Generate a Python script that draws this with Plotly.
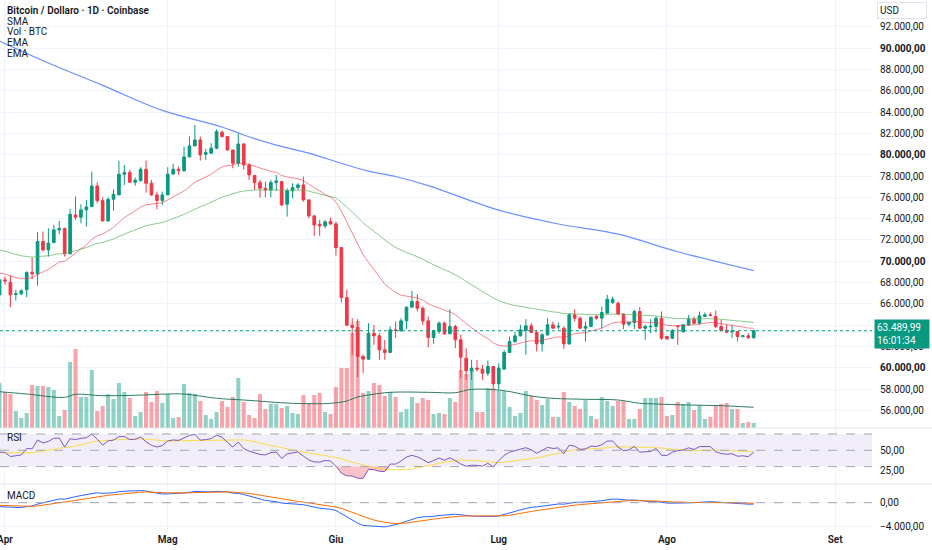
import pandas as pd
import plotly.graph_objects as go

# ---------------- data ----------------
first_day = "2024-03-31"

opens = [
    66855, 68260, 68042, 66890, 66949, 67324, 68979, 68823, 71853, 71072,
    71760, 72947, 73072, 70697, 74352, 74134, 74821, 75133, 77070, 75696,
    73790, 75821, 76227, 78164, 78320, 77414, 77570, 78632, 77320, 76227,
    75696, 76227, 78195, 78632, 78476, 79788, 80819, 81381, 80038, 80132,
    80601, 82100, 81694, 80444, 79195, 81007, 79038, 78039, 77383, 76852,
    76695, 77383, 77477, 75352, 76602, 76914, 77164, 75758, 74259, 73478,
    73322, 73728, 73509, 71291, 66605, 64012, 63793, 61076, 60826, 63262,
    63012, 61701, 61451, 63575, 63481, 64418, 65699, 66230, 65605, 64418,
    62856, 63419, 64200, 63200, 63887, 62638, 60919, 59732, 59982, 59889,
    59514, 60138, 58514, 59889, 61450, 62481, 63013, 63512, 63950, 63325,
    62263, 63106, 64043, 63840, 63731, 62263, 64981, 64668, 63731, 63887,
    64824, 64668, 65137, 66136, 66074, 65043, 64106, 64262, 65293, 63731,
    63850, 63887, 64668, 62950, 62794, 63950, 63419, 64043, 64574, 64200,
    64824, 64981, 64824, 63887, 63512, 63380, 63419, 62950, 63013, 62856,
]
highs = [
    68573, 68573, 68667, 67324, 67386, 69073, 70354, 72728, 72791, 73103,
    73415, 73790, 73165, 74915, 76071, 75352, 75758, 78414, 77414, 76008,
    76008, 76758, 79445, 79038, 78570, 77851, 78820, 79445, 77632, 76539,
    76539, 78820, 79132, 78882, 80757, 81694, 82787, 81694, 80538, 81069,
    82381, 82256, 81694, 80444, 81944, 81069, 79195, 78101, 77633, 77477,
    77633, 78101, 77539, 76852, 77320, 77320, 77945, 75821, 74352, 73884,
    73884, 74103, 73728, 71291, 67324, 64668, 64574, 61232, 64199, 64043,
    63262, 62637, 63887, 64355, 64668, 65761, 67230, 66917, 65761, 64824,
    63575, 64356, 64356, 65512, 64043, 63106, 61857, 60763, 60763, 60295,
    60701, 60138, 60451, 61700, 62950, 63419, 64043, 64574, 64200, 63575,
    63262, 64668, 64356, 64262, 63887, 65137, 65512, 64824, 64356, 64824,
    64981, 65762, 66855, 66699, 66230, 65137, 64356, 65449, 65700, 64043,
    64574, 64824, 65293, 63013, 63637, 63950, 64137, 64981, 64824, 65293,
    65199, 65199, 65387, 64512, 64043, 64043, 63419, 63106, 63262, 63575,
]
lows = [
    65918, 67792, 65699, 66324, 66824, 66636, 68323, 67730, 70916, 70447,
    71697, 72541, 70447, 70697, 73884, 73571, 73259, 75133, 75446, 73728,
    73728, 74758, 76227, 77164, 77383, 77102, 77477, 76446, 76133, 74884,
    75290, 76227, 78101, 78101, 78476, 79788, 80819, 79445, 79507, 80132,
    80507, 81631, 80382, 78726, 78882, 78570, 77633, 76695, 75977, 76008,
    76008, 76602, 75196, 74196, 75915, 76695, 75602, 74040, 72384, 72384,
    73103, 73415, 70541, 66136, 63950, 61232, 59138, 59513, 60764, 62169,
    60764, 60764, 61451, 62794, 63419, 63637, 65699, 65293, 64043, 61951,
    62263, 63200, 63106, 63200, 61857, 59045, 58889, 58889, 59670, 58889,
    59264, 58108, 57952, 59826, 61450, 62325, 62950, 61232, 63262, 61544,
    61544, 63013, 63637, 63637, 61794, 62169, 64356, 63637, 62481, 63825,
    64512, 63731, 65137, 66012, 64981, 63637, 63887, 63637, 63637, 62638,
    63262, 63325, 62638, 62638, 62700, 62169, 63262, 63950, 64137, 64043,
    64824, 64824, 63731, 63419, 63262, 62794, 62481, 62856, 62700, 62700,
]
closes = [
    68261, 68150, 66855, 66960, 67230, 68948, 68823, 71853, 71072, 71697,
    72947, 73072, 70697, 74415, 74134, 74821, 75102, 77070, 75696, 73790,
    75821, 76289, 78164, 78320, 77414, 77601, 78632, 77320, 76227, 75696,
    76227, 78164, 78632, 78507, 79788, 80819, 81381, 79976, 80194, 80601,
    82162, 81694, 80444, 79195, 81007, 79038, 78101, 77383, 76852, 76695,
    77383, 77539, 75290, 76602, 76914, 77164, 75758, 74259, 73415, 73322,
    73697, 73509, 71291, 66605, 64012, 63793, 61076, 60826, 63262, 63012,
    61701, 61451, 63575, 63512, 64418, 65699, 66230, 65605, 64418, 62856,
    63481, 64200, 63200, 63887, 62638, 61013, 59732, 59982, 59889, 59514,
    60138, 58514, 59982, 61450, 62481, 63013, 63575, 63950, 63325, 62263,
    63106, 64043, 63731, 63900, 62263, 64981, 64668, 63731, 63887, 64762,
    64668, 65199, 66449, 66449, 65043, 64106, 64293, 65293, 63731, 63887,
    63900, 64668, 62794, 62732, 63512, 63887, 64043, 64574, 64200, 64887,
    64981, 64918, 63887, 63512, 63356, 63450, 62950, 63013, 62856, 63489.99,
]
# volume (relative units of the volume pane)
volumes = [
    45, 36, 34, 17, 10, 15, 43, 42, 42, 41,
    38, 12, 18, 66, 79, 31, 31, 58, 17, 22,
    34, 29, 45, 36, 30, 12, 16, 36, 26, 37,
    25, 34, 10, 11, 44, 35, 34, 27, 13, 9,
    16, 27, 21, 31, 50, 26, 13, 10, 34, 19,
    24, 24, 20, 22, 15, 14, 33, 25, 33, 35,
    16, 14, 41, 60, 60, 95, 107, 35, 37, 45,
    43, 32, 36, 31, 16, 19, 31, 25, 30, 28,
    14, 15, 14, 30, 26, 58, 54, 58, 16, 16,
    40, 40, 37, 37, 21, 12, 15, 37, 32, 28,
    23, 29, 11, 11, 36, 26, 22, 19, 28, 12,
    9, 31, 27, 22, 27, 27, 9, 9, 19, 30,
    30, 30, 31, 12, 13, 26, 24, 26, 18, 23,
    9, 11, 23, 24, 25, 19, 19, 5, 6, 5,
]

# SMA (blue) read at sample days (day 0 = 1 Apr)
sma_day_index = [-1, 8, 18, 29, 40, 44, 50, 56, 62, 67, 72, 78, 91, 102, 113, 124, 138]
sma_values = [90650, 88600, 86500, 84150, 82600, 81850, 80900, 80150, 79200,
              78450, 77950, 77100, 74800, 73500, 72550, 70900, 69130]

# Volume moving average read at sample days
vol_ma_day_index = [-1, 4, 11, 13, 18, 24, 30, 33, 39, 44, 53, 60, 63, 65, 67, 71,
                    78, 83, 86, 92, 97, 101, 107, 113, 117, 120, 126, 132, 138]
vol_ma_values = [36.3, 34.0, 30.7, 33.7, 32.3, 32.7, 34.0, 34.0, 29.7, 28.0, 24.7, 24.7,
                 27.0, 31.0, 33.0, 35.7, 35.7, 35.3, 38.7, 37.3, 32.0, 29.7, 28.7, 28.0,
                 24.7, 24.0, 23.0, 22.3, 20.7]

# indicator states just before the first visible day
ema20_seed = 68950
ema50_seed = 71190
ema12_seed = 68700
ema26_seed = 69400
signal_seed = -380
rsi_gain_seed = 430
rsi_loss_seed = 470
rsi_ma_seed = 47

month_ticks = ["2024-04-01", "2024-05-01", "2024-06-01", "2024-07-01", "2024-08-01", "2024-09-01"]
month_labels = ["Apr", "Mag", "Giu", "Lug", "Ago", "Set"]
price_ticks = list(range(56000, 92001, 2000))
rsi_ticks = [25, 50]
rsi_levels = [70, 50, 30]
macd_ticks = [0, -4000]

legend_lines = ["Bitcoin / Dollaro · 1D · Coinbase", "SMA", "Vol · BTC", "EMA", "EMA"]
last_price = 63489.99
countdown = "16:01:34"

# ---------------- helpers ----------------
UP = "#089981"
DOWN = "#F23645"
TXT = "#131722"
GRID = "#f0f3fa"
FONT = "Roboto, 'Liberation Sans', sans-serif"
FS = 10


def fmt(v):
    s = f"{abs(v):,.2f}".replace(",", "X").replace(".", ",").replace("X", ".")
    return ("\u2212" + s) if v < 0 else s


def ema(vals, n, seed):
    a = 2.0 / (n + 1)
    e = seed
    out = []
    for v in vals:
        e = e + a * (v - e)
        out.append(e)
    return out


dates = pd.date_range(first_day, periods=len(closes), freq="D")
day0 = pd.Timestamp("2024-04-01")
sma_dates = [day0 + pd.Timedelta(days=d) for d in sma_day_index]
vol_ma_dates = [day0 + pd.Timedelta(days=d) for d in vol_ma_day_index]

ema20 = ema(closes, 20, ema20_seed)
ema50 = ema(closes, 50, ema50_seed)
e12 = ema(closes, 12, ema12_seed)
e26 = ema(closes, 26, ema26_seed)
macd = [a - b for a, b in zip(e12, e26)]
signal = ema(macd, 9, signal_seed)

# Wilder RSI
ag, al = rsi_gain_seed, rsi_loss_seed
rsi = [100 - 100 / (1 + ag / al)]
for i in range(1, len(closes)):
    d = closes[i] - closes[i - 1]
    ag = (ag * 13 + max(d, 0)) / 14
    al = (al * 13 + max(-d, 0)) / 14
    rsi.append(100 - 100 / (1 + ag / al))
rsi_ext = [rsi_ma_seed] * 13 + rsi
rsi_ma = [sum(rsi_ext[i:i + 14]) / 14 for i in range(len(rsi))]
rsi_low = [min(r, 30) for r in rsi]

vol_colors = ["rgba(8,153,129,0.45)" if c >= o else "rgba(242,54,69,0.45)"
              for o, c in zip(opens, closes)]

# ---------------- figure ----------------
fig = go.Figure()

fig.add_trace(go.Bar(x=dates, y=volumes, marker=dict(color=vol_colors, line=dict(width=0)),
                     width=0.75 * 86400000, xaxis="x", yaxis="y"))
fig.add_trace(go.Scatter(x=vol_ma_dates, y=vol_ma_values, mode="lines", line_shape="spline",
                         line=dict(color="rgba(22,110,80,0.9)", width=1), xaxis="x", yaxis="y"))

fig.add_trace(go.Scatter(x=sma_dates, y=sma_values, mode="lines", line_shape="spline",
                         line=dict(color="rgba(41,98,255,0.7)", width=1.2), xaxis="x", yaxis="y4"))
fig.add_trace(go.Scatter(x=dates, y=ema50, mode="lines",
                         line=dict(color="rgba(76,175,80,0.65)", width=1), xaxis="x", yaxis="y4"))
fig.add_trace(go.Scatter(x=dates, y=ema20, mode="lines",
                         line=dict(color="rgba(242,54,69,0.6)", width=1), xaxis="x", yaxis="y4"))
fig.add_trace(go.Candlestick(
    x=dates, open=opens, high=highs, low=lows, close=closes,
    increasing=dict(line=dict(color=UP, width=1), fillcolor=UP),
    decreasing=dict(line=dict(color=DOWN, width=1), fillcolor=DOWN),
    whiskerwidth=0, xaxis="x", yaxis="y4"))

# RSI pane
fig.add_trace(go.Scatter(x=dates, y=[30] * len(dates), mode="lines",
                         line=dict(width=0, color="rgba(0,0,0,0)"), xaxis="x", yaxis="y2"))
fig.add_trace(go.Scatter(x=dates, y=rsi_low, mode="lines", fill="tonexty",
                         fillcolor="rgba(242,54,69,0.3)", line=dict(width=0, color="rgba(0,0,0,0)"),
                         xaxis="x", yaxis="y2"))
fig.add_trace(go.Scatter(x=dates, y=rsi_ma, mode="lines",
                         line=dict(color="rgba(253,216,53,0.9)", width=1), xaxis="x", yaxis="y2"))
fig.add_trace(go.Scatter(x=dates, y=rsi, mode="lines",
                         line=dict(color="#7E57C2", width=1), xaxis="x", yaxis="y2"))

# MACD pane
fig.add_trace(go.Scatter(x=dates, y=macd, mode="lines",
                         line=dict(color="#2962FF", width=1), xaxis="x", yaxis="y3"))
fig.add_trace(go.Scatter(x=dates, y=signal, mode="lines",
                         line=dict(color="#FF6D00", width=1), xaxis="x", yaxis="y3"))

H = 532.0
W = 872.0
main_dom = [104 / H, 1]
rsi_dom = [48 / H, 104 / H]
macd_dom = [0, 48 / H]

x_start = day0 - pd.Timedelta(days=0.92)
x_end = day0 + pd.Timedelta(days=159.8)

tickfont = dict(family=FONT, size=FS, color=TXT)

shapes = []
# RSI band and levels
shapes.append(dict(type="rect", xref="paper", yref="y2", x0=0, x1=1, y0=30, y1=70,
                   fillcolor="rgba(126,87,194,0.1)", line=dict(width=0), layer="below"))
for lv in rsi_levels:
    shapes.append(dict(type="line", xref="paper", yref="y2", x0=0, x1=1, y0=lv, y1=lv,
                       line=dict(color="#a3a6af", width=1, dash="dash")))
shapes.append(dict(type="line", xref="paper", yref="y3", x0=0, x1=1, y0=0, y1=0,
                   line=dict(color="#a3a6af", width=1, dash="dash")))
# last price dotted line
shapes.append(dict(type="line", xref="paper", yref="y4", x0=0, x1=1, y0=last_price, y1=last_price,
                   line=dict(color=UP, width=1, dash="dot")))
# pane separators
for yy in (main_dom[0], rsi_dom[0]):
    shapes.append(dict(type="line", xref="paper", yref="paper", x0=0, x1=932 / W, y0=yy, y1=yy,
                       line=dict(color="#e0e3eb", width=1)))

annotations = []
legend_y = [10.3, 21.0, 31.7, 42.3, 53.0]
for i, (txt, ypx) in enumerate(zip(legend_lines, legend_y)):
    annotations.append(dict(xref="paper", yref="paper", x=5 / W, y=1 - ypx / H,
                            xanchor="left", yanchor="middle", showarrow=False, text=txt,
                            font=dict(family=FONT, size=FS, color=TXT,
                                      weight=600 if i == 0 else 400)))
annotations.append(dict(xref="paper", yref="paper", x=5 / W, y=1 - 437.5 / H, xanchor="left",
                        yanchor="middle", showarrow=False, text="RSI",
                        font=dict(family=FONT, size=FS, color=TXT)))
annotations.append(dict(xref="paper", yref="paper", x=5 / W, y=1 - 495 / H, xanchor="left",
                        yanchor="middle", showarrow=False, text="MACD",
                        font=dict(family=FONT, size=FS, color=TXT)))
annotations.append(dict(xref="paper", yref="paper", x=877 / W, y=1 - 10.5 / H, xanchor="left",
                        yanchor="middle", showarrow=False, text="USD", align="left", width=44,
                        bordercolor="#e0e3eb", borderwidth=1, borderpad=2, bgcolor="white",
                        font=dict(family=FONT, size=FS, color=TXT)))
annotations.append(dict(xref="paper", yref="y4", x=873.5 / W, y=last_price, yshift=-3,
                        xanchor="left", yanchor="middle", showarrow=False, align="left",
                        text=f"{fmt(last_price)}<br>{countdown}", bgcolor=UP, borderpad=2,
                        width=50, font=dict(family=FONT, size=FS, color="white")))

price_labels = [f"<b>{fmt(v)}</b>" if v % 10000 == 0 else fmt(v) for v in price_ticks]

fig.update_layout(
    width=932, height=550,
    margin=dict(l=0, r=60, t=0, b=18, autoexpand=False),
    paper_bgcolor="white", plot_bgcolor="white",
    showlegend=False, hovermode=False,
    font=dict(family=FONT, color=TXT),
    shapes=shapes, annotations=annotations,
    xaxis=dict(domain=[0, 1], anchor="y3", type="date", range=[x_start, x_end],
               tickvals=month_ticks, ticktext=month_labels, automargin=False,
               tickfont=dict(family=FONT, size=FS, color=TXT, weight=600),
               ticklabeloverflow="allow",
               showgrid=True, gridcolor=GRID, gridwidth=1, zeroline=False, showline=False,
               ticks="", rangeslider=dict(visible=False), fixedrange=True),
    yaxis=dict(domain=main_dom, anchor="x", range=[0, 428], visible=False, showgrid=False,
               automargin=False, fixedrange=True),
    yaxis4=dict(overlaying="y", anchor="x", side="right", range=[54370, 94504],
                tickvals=price_ticks, ticktext=price_labels, tickfont=tickfont, automargin=False,
                showgrid=True, gridcolor=GRID, zeroline=False, showline=False,
                ticks="outside", ticklen=5, tickcolor="rgba(0,0,0,0)", fixedrange=True),
    yaxis2=dict(domain=rsi_dom, anchor="x", side="right", range=[8.7, 77.3], automargin=False,
                tickvals=rsi_ticks, ticktext=[fmt(v) for v in rsi_ticks], tickfont=tickfont,
                showgrid=False, zeroline=False, showline=False,
                ticks="outside", ticklen=5, tickcolor="rgba(0,0,0,0)", fixedrange=True),
    yaxis3=dict(domain=macd_dom, anchor="x", side="right", range=[-5026, 3208], automargin=False,
                tickvals=macd_ticks, ticktext=[fmt(v) for v in macd_ticks], tickfont=tickfont,
                showgrid=True, gridcolor=GRID, zeroline=False, showline=False,
                ticks="outside", ticklen=5, tickcolor="rgba(0,0,0,0)", fixedrange=True),
)

fig.write_html("out.html", config={"displayModeBar": False},
               post_script="document.body.style.margin='0';document.body.style.overflow='hidden';")
